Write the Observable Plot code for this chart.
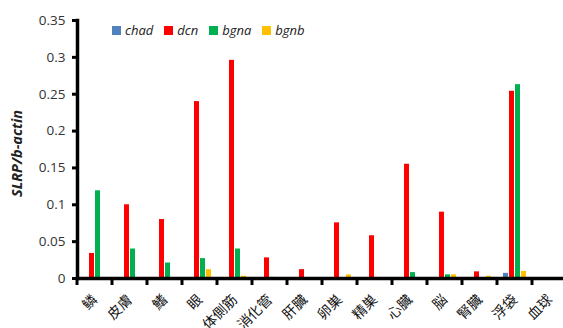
<!DOCTYPE html>
<html><head><meta charset="utf-8">
<script src="https://cdn.jsdelivr.net/npm/d3@7"></script>
<script src="https://cdn.jsdelivr.net/npm/@observablehq/plot@0.6"></script>
<style>
html,body{margin:0;padding:0;overflow:hidden;background:#fff;}
#chart{position:relative;width:563px;height:328px;overflow:hidden;}
#legend{position:absolute;left:112px;top:23.7px;display:flex;font-family:"Open Sans";font-style:italic;font-size:13px;line-height:13px;color:#222;}
#legend .item{display:flex;align-items:center;margin-right:11px;}
#legend .sw{width:9px;height:9px;margin-right:4px;}
</style></head><body><div id="chart"></div>
<script>
const categories = ["鳞","皮膚","鰭","眼","体側筋","消化管","肝臓","卵巣","精巣","心臓","脳","腎臓","浮袋","血球"];
const seriesNames = ["chad","dcn","bgna","bgnb"];
const colors = ["#4F81BD","#FF0000","#00B050","#FFC000"];
const chad = [0,0,0,0,0,0,0,0,0,0,0,0,0.007,0];
const dcn  = [0.034,0.1,0.08,0.24,0.296,0.028,0.012,0.0755,0.058,0.155,0.09,0.009,0.254,0];
const bgna = [0.119,0.04,0.021,0.027,0.04,0.0015,0,0,0,0.008,0.005,0,0.263,0];
const bgnb = [0,0,0,0.012,0.003,0,0,0.005,0,0,0.005,0.003,0.0095,0];
const yTicks = [0,0.05,0.1,0.15,0.2,0.25,0.3,0.35];
const yLabel = ["SLRP/b-actin"];

const values = [chad, dcn, bgna, bgnb];
const table = categories.flatMap((c, i) => seriesNames.map((s, j) => ({category: c, series: s, value: values[j][i]})));

const plot = Plot.plot({
  width: 563, height: 328,
  marginLeft: 72, marginRight: -9, marginTop: 20, marginBottom: 50,
  style: {fontFamily: "Open Sans", background: "#fff"},
  fx: {domain: categories, padding: 0},
  x: {domain: seriesNames, paddingInner: 0.25, paddingOuter: 0.8, axis: null},
  y: {domain: [0, 0.35]},
  color: {domain: seriesNames, range: colors},
  marks: [
    Plot.barY(table, {fx: "category", x: "series", y: "value", fill: "series"}),
    Plot.ruleY([0], {stroke: "#000", strokeWidth: 3.5}),
    Plot.frame({anchor: "left", facetAnchor: "left", stroke: "#000", strokeWidth: 3.5}),
    Plot.axisY({ticks: yTicks, tickFormat: d => String(+d.toFixed(2)), tickSize: 5, tickPadding: 7,
      strokeWidth: 3, stroke: "#000", fill: "#333", fontSize: 13.5, label: null}),
    Plot.axisFx({anchor: "bottom", tickRotate: -45, tickSize: 0, tickPadding: 19, fontSize: 14,
      fontFamily: "Noto Sans CJK JP", fill: "#111", label: null}),
    Plot.text(yLabel, {frameAnchor: "left", facetAnchor: "left", textAnchor: "middle", dx: -60, dy: 4, rotate: -90,
      fontWeight: "bold", fontStyle: "italic", fontSize: 14.5, fill: "#222", text: d => d})
  ]
});

// boundary ticks on the category axis, from Plot's own scales
const fxs = plot.scale("fx"), ys = plot.scale("y");
const edges = categories.map(c => fxs.apply(c));
edges.push(edges[edges.length - 1] + fxs.step);
const y0 = ys.apply(0);
d3.select(plot).append("g").selectAll("line").data(edges).join("line")
  .attr("x1", d => d).attr("x2", d => d).attr("y1", y0).attr("y2", y0 + 7)
  .attr("stroke", "#000").attr("stroke-width", 3);

const chart = document.getElementById("chart");
chart.appendChild(plot);
const legend = document.createElement("div");
legend.id = "legend";
seriesNames.forEach((s, i) => {
  const item = document.createElement("div"); item.className = "item";
  const sw = document.createElement("div"); sw.className = "sw"; sw.style.background = colors[i];
  const t = document.createElement("span"); t.textContent = s;
  item.appendChild(sw); item.appendChild(t); legend.appendChild(item);
});
chart.appendChild(legend);
</script></body></html>
